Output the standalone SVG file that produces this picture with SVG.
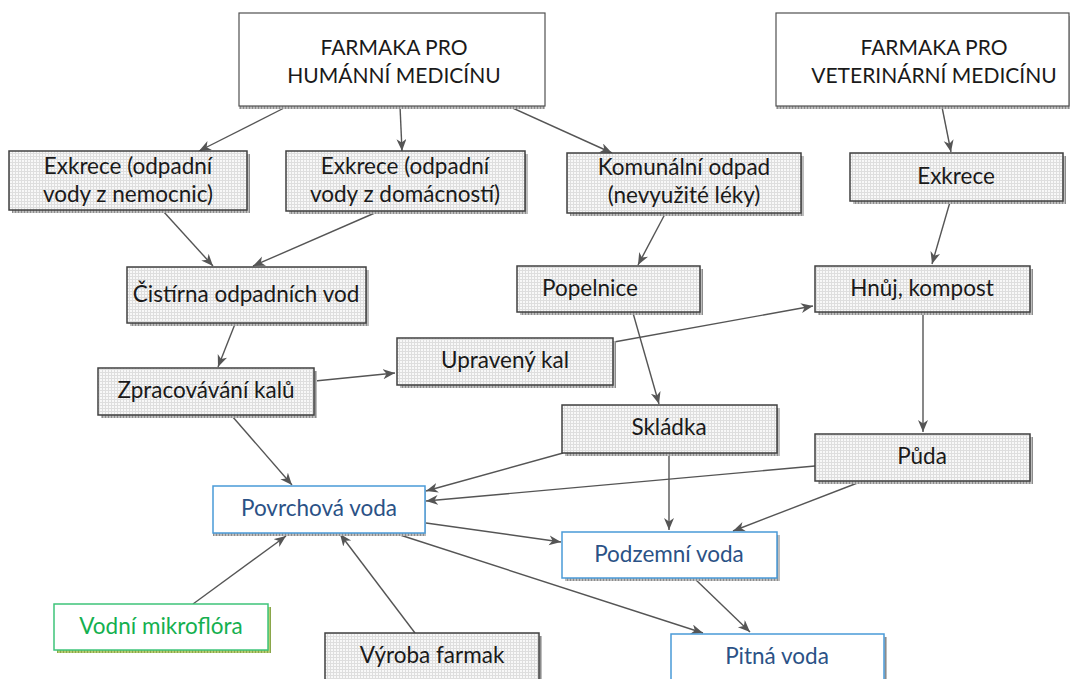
<svg xmlns="http://www.w3.org/2000/svg" width="1076" height="679" viewBox="0 0 1076 679">
<defs>
<pattern id="grid" width="3" height="3" patternUnits="userSpaceOnUse">
<rect width="3" height="3" fill="#f8f8f8"/>
<path d="M0 0.5H3M0.5 0V3" stroke="#dedede" stroke-width="1"/>
</pattern>
<pattern id="shd" width="3" height="3" patternUnits="userSpaceOnUse">
<rect width="3" height="3" fill="#bdbdbd"/>
<path d="M0.5 0V3" stroke="#8c8c8c" stroke-width="1"/>
</pattern>
<pattern id="gshd" width="3" height="3" patternUnits="userSpaceOnUse">
<rect width="3" height="3" fill="#b3cc70"/>
<path d="M0.5 0V3" stroke="#8aa64a" stroke-width="1"/>
</pattern>
<marker id="ah" markerUnits="userSpaceOnUse" markerWidth="14" markerHeight="12" refX="12" refY="5" orient="auto">
<path d="M0,0 L12,5 L0,10 L3.5,5 z" fill="#555"/>
</marker>
</defs>
<style>
text{font-family:Lato,"Noto Sans","Liberation Sans",sans-serif;font-size:22.5px;text-anchor:middle;fill:#1a1a1a}
.cap{font-size:21px}
.g{fill:url(#grid);stroke:#404040;stroke-width:1.5}
.w{fill:#fff;stroke:#505050;stroke-width:1.2}
.b{fill:#fff;stroke:#4a9ad8;stroke-width:1.5}
.gr{fill:#fff;stroke:#3ec47a;stroke-width:1.5}
.s{fill:url(#shd)}
.gs{fill:url(#gshd)}
.bt{fill:#2b5286}
.gt{fill:#14b04f}
#conn line{stroke:#555;stroke-width:1.4;marker-end:url(#ah)}
</style>
<rect width="1076" height="679" fill="#fff"/>
<g id="conn">
<line x1="288" y1="106" x2="199" y2="151"/>
<line x1="400" y1="106" x2="402" y2="151"/>
<line x1="508" y1="106" x2="612" y2="153"/>
<line x1="942" y1="107" x2="951" y2="152"/>
<line x1="163" y1="211" x2="213" y2="266"/>
<line x1="377" y1="212" x2="253" y2="266"/>
<line x1="665" y1="214" x2="638" y2="265"/>
<line x1="950" y1="202" x2="932" y2="264"/>
<line x1="235" y1="324" x2="218" y2="367"/>
<line x1="315" y1="381" x2="395" y2="373"/>
<line x1="614" y1="342" x2="813" y2="306"/>
<line x1="633" y1="313" x2="659" y2="404"/>
<line x1="923" y1="313" x2="923" y2="432"/>
<line x1="232" y1="416" x2="292" y2="485"/>
<line x1="563" y1="453" x2="426" y2="491"/>
<line x1="815" y1="466" x2="426" y2="501"/>
<line x1="669" y1="454" x2="669" y2="530"/>
<line x1="860" y1="482" x2="733" y2="531"/>
<line x1="426" y1="523" x2="561" y2="542"/>
<line x1="397" y1="534" x2="703" y2="633"/>
<line x1="695" y1="579" x2="750" y2="632"/>
<line x1="193" y1="604" x2="286" y2="536"/>
<line x1="415" y1="633" x2="340" y2="534"/>
</g>
<g id="human"><rect class="s" x="239" y="16" width="306" height="93"/><rect class="w" x="239" y="13" width="306" height="93"/><text class="cap" x="394" y="55">FARMAKA PRO</text><text class="cap" x="394" y="83">HUMÁNNÍ MEDICÍNU</text></g>
<g id="vet"><rect class="s" x="776" y="16" width="294" height="93"/><rect class="w" x="776" y="13" width="293" height="93"/><text class="cap" x="934" y="55">FARMAKA PRO</text><text class="cap" x="934" y="83">VETERINÁRNÍ MEDICÍNU</text></g>
<g id="exk1"><rect class="s" x="12" y="154" width="238" height="59"/><rect class="g" x="9" y="151" width="238" height="59"/><text x="128" y="174">Exkrece (odpadní</text><text x="128" y="202">vody z  nemocnic)</text></g>
<g id="exk2"><rect class="s" x="289" y="154" width="239" height="60"/><rect class="g" x="286" y="151" width="239" height="60"/><text x="405" y="174">Exkrece (odpadní</text><text x="405" y="202">vody z domácností)</text></g>
<g id="komunal"><rect class="s" x="570" y="156" width="234" height="60"/><rect class="g" x="567" y="153" width="234" height="60"/><text x="684" y="175">Komunální odpad</text><text x="684" y="203">(nevyužité léky)</text></g>
<g id="exk3"><rect class="s" x="853" y="156" width="213" height="48"/><rect class="g" x="850" y="153" width="213" height="48"/><text x="956" y="184">Exkrece</text></g>
<g id="cistirna"><rect class="s" x="130" y="270" width="239" height="56"/><rect class="g" x="127" y="267" width="239" height="56"/><text x="246" y="302">Čistírna odpadních vod</text></g>
<g id="popelnice"><rect class="s" x="520" y="269" width="183" height="46"/><rect class="g" x="517" y="266" width="183" height="46"/><text x="590" y="296">Popelnice</text></g>
<g id="hnuj"><rect class="s" x="818" y="269" width="215" height="46"/><rect class="g" x="815" y="266" width="215" height="46"/><text x="922" y="296">Hnůj, kompost</text></g>
<g id="upraveny"><rect class="s" x="400" y="341" width="216" height="47"/><rect class="g" x="397" y="338" width="216" height="47"/><text x="505" y="368">Upravený kal</text></g>
<g id="zpracovani"><rect class="s" x="101" y="371" width="216" height="47"/><rect class="g" x="98" y="368" width="216" height="47"/><text x="206" y="398">Zpracovávání kalů</text></g>
<g id="skladka"><rect class="s" x="565" y="408" width="215" height="48"/><rect class="g" x="562" y="405" width="215" height="48"/><text x="669" y="435">Skládka</text></g>
<g id="puda"><rect class="s" x="818" y="437" width="215" height="47"/><rect class="g" x="815" y="434" width="215" height="47"/><text x="922" y="464">Půda</text></g>
<g id="povrchova"><rect class="s" x="213" y="489" width="213" height="47"/><rect class="b" x="213" y="486" width="212" height="47"/><text class="bt" x="319" y="516">Povrchová voda</text></g>
<g id="podzemni"><rect class="s" x="565" y="535" width="215" height="46"/><rect class="b" x="562" y="532" width="215" height="46"/><text class="bt" x="669" y="562">Podzemní voda</text></g>
<g id="mikroflora"><rect class="gs" x="57" y="607" width="214" height="46"/><rect class="gr" x="54" y="604" width="214" height="46"/><text class="gt" x="161" y="634">Vodní mikroflóra</text></g>
<g id="vyroba"><rect class="s" x="328" y="636" width="214" height="60"/><rect class="g" x="325" y="633" width="214" height="60"/><text x="432" y="663">Výroba farmak</text></g>
<g id="pitna"><rect class="s" x="674" y="637" width="213" height="60"/><rect class="b" x="671" y="634" width="213" height="60"/><text class="bt" x="777" y="664">Pitná voda</text></g>
</svg>
